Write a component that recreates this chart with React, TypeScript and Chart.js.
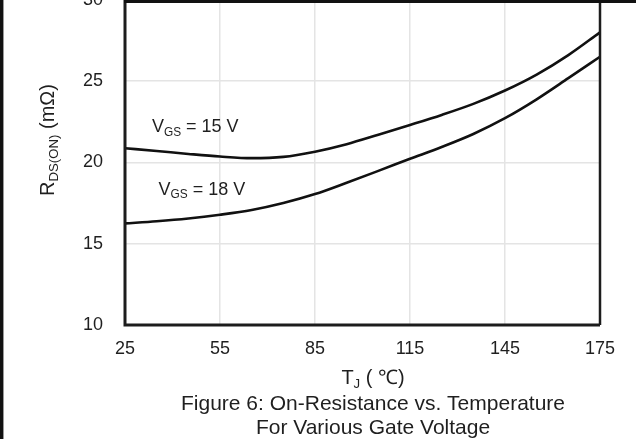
import { useEffect, useRef } from "react";
import { Chart, registerables } from "chart.js";

Chart.register(...registerables);

// ---- data ----
const temperatures = [25, 35, 45, 55, 65, 75, 85, 95, 105, 115, 125, 135, 145, 155, 165, 175];
const rdsOn15V = [20.87, 20.7, 20.52, 20.36, 20.26, 20.34, 20.66, 21.12, 21.7, 22.3, 22.92, 23.6, 24.42, 25.4, 26.6, 28.0];
const rdsOn18V = [16.25, 16.38, 16.55, 16.78, 17.07, 17.5, 18.05, 18.75, 19.48, 20.22, 20.95, 21.75, 22.72, 23.88, 25.18, 26.5];
const xTickValues = [25, 55, 85, 115, 145, 175];
const yTickValues = [10, 15, 20, 25, 30];
const seriesNames = ["VGS = 15 V", "VGS = 18 V"];
const xTitle = [{ t: "T" }, { t: "J", sub: true }, { t: " ( ℃)" }];
const yTitle = [{ t: "R" }, { t: "DS(ON)", sub: true }, { t: " (mΩ)" }];
const captionLines = ["Figure 6: On-Resistance vs. Temperature", "For Various Gate Voltage"];
const label15 = [{ t: "V" }, { t: "GS", sub: true }, { t: " = 15 V" }];
const label18 = [{ t: "V" }, { t: "GS", sub: true }, { t: " = 18 V" }];
// annotation anchors in data coordinates (left edge, vertical centre)
const label15Anchor = { x: 33.5, y: 22.25 };
const label18Anchor = { x: 35.6, y: 18.4 };

const FONT = 'Arial, "Liberation Sans", Helvetica, sans-serif';
const TEXT = "#1f1f1f";
const OFFSET = 33; // canvas is shifted up by this many px

type Run = { t: string; sub?: boolean };

function drawRuns(
  ctx: CanvasRenderingContext2D,
  runs: Run[],
  x: number,
  cy: number,
  size: number,
  align: "left" | "center"
) {
  const subSize = size * 0.66;
  let total = 0;
  const widths: number[] = [];
  for (const r of runs) {
    ctx.font = `${r.sub ? subSize : size}px ${FONT}`;
    const w = ctx.measureText(r.t).width;
    widths.push(w);
    total += w;
  }
  let cx = align === "center" ? x - total / 2 : x;
  const base = cy + size * 0.36;
  ctx.textAlign = "left";
  ctx.textBaseline = "alphabetic";
  runs.forEach((r, i) => {
    ctx.font = `${r.sub ? subSize : size}px ${FONT}`;
    ctx.fillText(r.t, cx, r.sub ? base + size * 0.2 : base);
    cx += widths[i];
  });
}

const decorPlugin = {
  id: "decor",
  afterDraw(chart: any) {
    const ctx: CanvasRenderingContext2D = chart.ctx;
    const { left, right, top, bottom } = chart.chartArea;
    const xs = chart.scales.x;
    const ys = chart.scales.y;
    ctx.save();
    // frame
    ctx.strokeStyle = "#1c1c1c";
    ctx.lineWidth = 3;
    ctx.beginPath();
    ctx.moveTo(left, top - 2);
    ctx.lineTo(left, bottom);
    ctx.lineTo(right, bottom);
    ctx.stroke();
    ctx.lineWidth = 2.5;
    ctx.beginPath();
    ctx.moveTo(right, bottom);
    ctx.lineTo(right, top - 2);
    ctx.stroke();

    ctx.fillStyle = TEXT;
    // series labels
    drawRuns(ctx, label15, xs.getPixelForValue(label15Anchor.x), ys.getPixelForValue(label15Anchor.y), 18, "left");
    drawRuns(ctx, label18, xs.getPixelForValue(label18Anchor.x), ys.getPixelForValue(label18Anchor.y), 18, "left");

    // axis titles and caption
    const cx = 373;
    drawRuns(ctx, xTitle, cx, 377 + OFFSET, 20, "center");
    drawRuns(ctx, [{ t: captionLines[0] }], cx, 402 + OFFSET, 21, "center");
    drawRuns(ctx, [{ t: captionLines[1] }], cx, 426 + OFFSET, 21, "center");

    ctx.save();
    ctx.translate(47, 140 + OFFSET);
    ctx.rotate(-Math.PI / 2);
    drawRuns(ctx, yTitle, 0, 0, 20, "center");
    ctx.restore();
    ctx.restore();
  },
};

export default function App() {
  const ref = useRef<HTMLCanvasElement>(null);
  useEffect(() => {
    document.body.style.margin = "0";
    document.body.style.overflow = "hidden";
    const canvas = ref.current!;
    const chart = new Chart(canvas, {
      type: "line",
      data: {
        datasets: [
          {
            label: seriesNames[0],
            data: temperatures.map((t, i) => ({ x: t, y: rdsOn15V[i] })),
            borderColor: "#111",
            borderWidth: 2.6,
            pointRadius: 0,
            cubicInterpolationMode: "monotone",
            fill: false,
          },
          {
            label: seriesNames[1],
            data: temperatures.map((t, i) => ({ x: t, y: rdsOn18V[i] })),
            borderColor: "#111",
            borderWidth: 2.6,
            pointRadius: 0,
            cubicInterpolationMode: "monotone",
            fill: false,
          },
        ],
      },
      options: {
        responsive: false,
        animation: false,
        devicePixelRatio: 1,
        layout: { padding: { left: 0, right: 36, top: 19, bottom: 0 } },
        plugins: { legend: { display: false }, tooltip: { enabled: false } },
        scales: {
          x: {
            type: "linear",
            min: xTickValues[0],
            max: xTickValues[xTickValues.length - 1],
            afterBuildTicks: (s: any) => {
              s.ticks = xTickValues.map((v) => ({ value: v }));
            },
            ticks: { color: TEXT, padding: 13, font: { family: FONT, size: 18 }, maxRotation: 0 },
            grid: { color: "#e4e4e4", lineWidth: 1.5, drawTicks: false },
            border: { display: false },
            afterFit: (s: any) => {
              s.height = 114;
            },
          },
          y: {
            type: "linear",
            min: yTickValues[0],
            max: yTickValues[yTickValues.length - 1],
            afterBuildTicks: (s: any) => {
              s.ticks = yTickValues.map((v) => ({ value: v }));
            },
            ticks: { color: TEXT, padding: 22, font: { family: FONT, size: 18 } },
            grid: { color: "#e4e4e4", lineWidth: 1.5, drawTicks: false },
            border: { display: false },
            afterFit: (s: any) => {
              s.width = 125;
            },
          },
        },
      } as any,
      plugins: [decorPlugin],
    });
    return () => chart.destroy();
  }, []);

  return (
    <div style={{ position: "relative", width: 636, height: 439, overflow: "hidden", background: "#fff" }}>
      <div style={{ position: "absolute", left: 0, top: -OFFSET, width: 636, height: 439 + OFFSET }}>
        <canvas ref={ref} width={636} height={439 + OFFSET} />
      </div>
      <div style={{ position: "absolute", left: 124, top: 0, width: 512, height: 3, background: "#111" }} />
      <div style={{ position: "absolute", left: 0, top: 0, width: 3, height: 439, background: "#111" }} />
      <div style={{ position: "absolute", left: 3, top: 0, width: 1, height: 439, background: "#999" }} />
    </div>
  );
}
